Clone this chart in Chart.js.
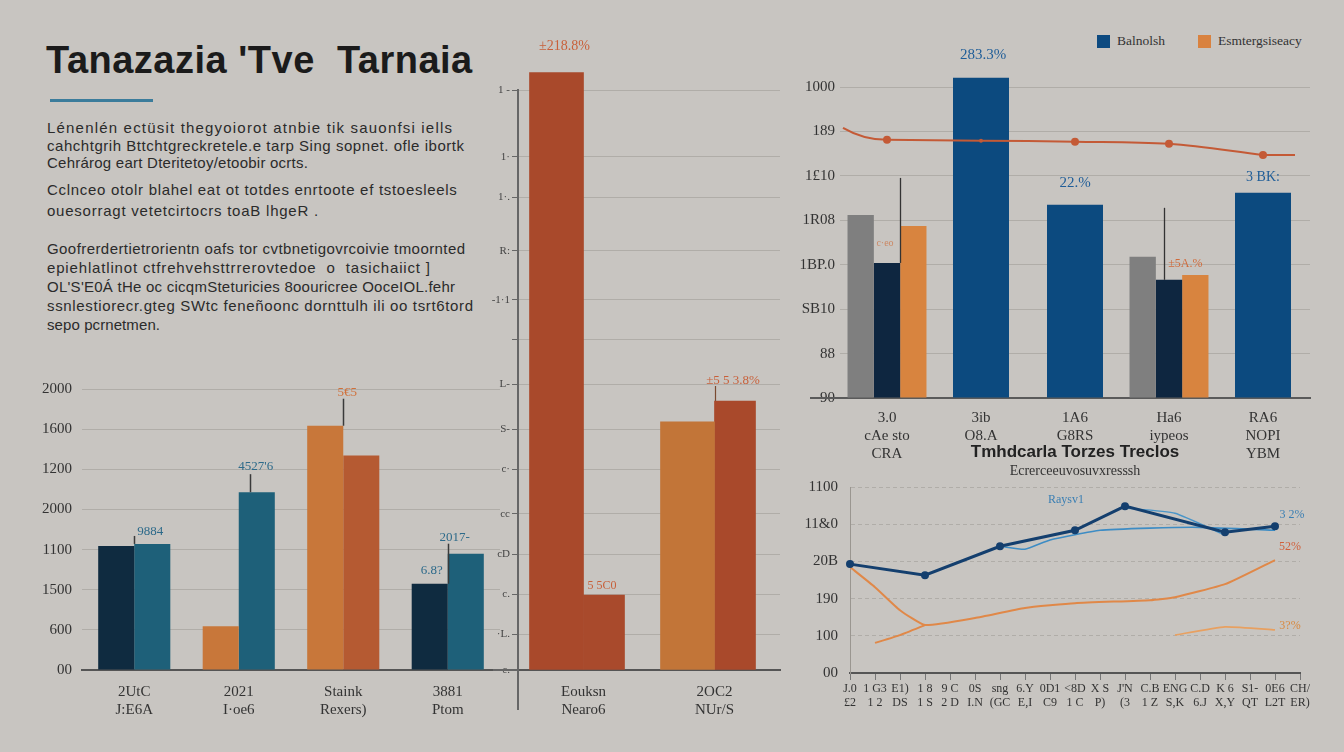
<!DOCTYPE html>
<html><head><meta charset="utf-8">
<script src="https://cdn.jsdelivr.net/npm/chart.js@4.4.1/dist/chart.umd.min.js"></script>
<style>
html,body{margin:0;padding:0;background:#c8c5c1;width:1344px;height:752px;overflow:hidden;}
body{position:relative;font-family:"Liberation Sans",Arial,sans-serif;}
canvas{position:absolute;}
#title{position:absolute;left:46px;top:41px;font:bold 38px/38px "Liberation Sans",Arial,sans-serif;color:#1b1b1b;white-space:nowrap;letter-spacing:0.5px}
#rule{position:absolute;left:50px;top:99px;width:103px;height:3px;background:#3b7c9b}
.ln{position:absolute;left:47px;font-size:15px;line-height:18px;color:#2b2b2b;white-space:nowrap}
.lg{position:absolute;top:33px;display:flex;align-items:center;font:13.5px "Liberation Serif",serif;color:#333;white-space:nowrap}
.lg i{display:inline-block;width:13px;height:13px;margin-right:7px}
</style></head><body>
<div id="title">Tanazazia 'Tve&nbsp; Tarnaia</div>
<div id="rule"></div>
<div id="text"></div>
<div id="legend"></div>
<canvas id="cA" width="490" height="360" style="left:20px;top:370px"></canvas>
<canvas id="cB" width="320" height="700" style="left:470px;top:30px"></canvas>
<canvas id="cC" width="554" height="440" style="left:790px;top:25px"></canvas>
<canvas id="cD" width="554" height="300" style="left:790px;top:435px"></canvas>
<script>
// ---------------- DATA ----------------
const paragraphLines = [
  "Lénenlén ectüsit thegyoiorot atnbie tik sauonfsi iells",
  "cahchtgrih Bttchtgreckretele.e tarp Sing sopnet. ofle ibortk",
  "Cehrárog eart Dteritetoy/etoobir ocrts.",
  "Cclnceo otolr blahel eat ot totdes enrtoote ef tstoesleels",
  "ouesorragt vetetcirtocrs toaB lhgeR .",
  "Goofrerdertietrorientn oafs tor cvtbnetigovrcoivie tmoornted",
  "epiehlatlinot ctfrehvehsttrrerovtedoe  o  tasichaiict ]",
  "OL'S'E0Á tHe oc cicqmSteturicies 8oouricree OoceIOL.fehr",
  "ssnlestiorecr.gteg SWtc feneñoonc dornttulh ili oo tsrt6tord",
  "sepo pcrnetmen."
];

// Chart A (bottom-left)
const blCategories = [["2UtC","J:E6A"],["2021","I·oe6"],["Staink","Rexers)"],["3881","Ptom"]];
const blTickLabels = ["00","600","1500","1100","2000","1200","1600","2000"];
const blLeft  = [618, 218, 1217, 430];
const blRight = [628, 886, 1069, 579];
const blValueLabels = ["9884","4527'6","5€5","6.8?","2017-"];

// Chart B (centre)
const cCategories = [["Eouksn","Nearo6"],["2OC2","NUr/S"]];
const cTickValues = [0,80,170,260,350,450,540,640,740,830,940,1060,1150,1300];
const cTickLabels = ["c.","·L.","c.","cD","cc","c·","S-","L-","","-1·1","R:","1·.","1·","1 -"];
const cLeft  = [1339, 556];
const cRight = [168, 603];
const cValueLabels = ["±218.8%","5 5C0","±5 5 3.8%"];

// Chart C (top-right)
const trCategories = [["3.0","cAe sto","CRA"],["3ib","O8.A"],["1A6","G8RS"],["Ha6","iypeos"],["RA6","NOPI","YBM"]];
const trTickLabels = ["90","88","SB10","1BP.0","1R08","1£10","189","1000"];
const trGray   = [412, null, null, 318, null];
const trBlue   = [304, 721, 435, 266, 462];
const trOrange = [387, null, null, 277, null];
const trLine   = [581, 579, 577, 572, 547];
const trLineEnds = [608, 547];
const trLegendNames = ["Balnolsh","Esmtergsiseacy"];
const trValueLabels = ["283.3%","22.%","3 BK:","±5A.%","c·eo"];

// Chart D (bottom-right)
const brTitle = "Tmhdcarla Torzes Treclos";
const brSubtitle = "Ecrerceeuvosuvxresssh";
const brX1 = ["J.0","1 G3","E1)","1 8","9 C","0S","sng","6.Y","0D1","<8D","X S","J'N","C.B","ENG","C.D","K 6","S1-","0E6","CH/"];
const brX2 = ["£2","1 2","DS","1 S","2 D","I.N","(GC","E,I","C9","1 C","P)","(3","1 Z","S,K","6.J","X,Y","QT","L2T","ER)"];
const brTickLabels = ["00","100","190","20B","11&0","1100"];
const brNavy    = [293,null,null,263,null,null,341,null,null,384,null,449,null,null,null,379,null,395,null];
const brLight   = [null,null,null,null,null,null,341,333,358,null,384,null,390,null,392,null,null,384,null];
const brLight2  = [null,null,null,null,null,null,null,null,null,null,null,444,null,430,null,371,null,null,null];
const brOrangeA = [285,231,169,129,null,148,null,175,null,188,null,null,196,204,null,239,null,304,null];
const brOrangeB = [null,81,102,129,null,null,null,null,null,null,null,null,null,null,null,null,null,null,null];
const brOrangeC = [null,null,null,null,null,null,null,null,null,null,null,null,null,102,null,124,null,116,null];
const brNotes = ["Raysv1","3 2%","52%","3?%"];

// ---------------- STYLE ----------------
const GRID = 'rgba(115,110,105,0.28)';
const SERIF = '"Liberation Serif", "DejaVu Serif", serif';
const lineTops = [119,137,154,181,202,240,259,278,297,316];
const lineRights = [452,464,308,457,318,465,430,455,473,160];
const legendColors = ['#0d4a80','#d9823f'];
const legendLeft = [1097, 1198];

// text block
const textBox = document.getElementById('text');
textBox.innerHTML = paragraphLines.map((t,i)=>
  '<div class="ln" style="top:'+lineTops[i]+'px">'+t.replace(/  /g,'&nbsp; ')+'</div>').join('');
Array.from(textBox.children).forEach((d, i) => {
  const w = d.getBoundingClientRect().width;
  const n = paragraphLines[i].length - 1;
  d.style.letterSpacing = ((lineRights[i] - 47 - w) / n).toFixed(2) + 'px';
});
document.getElementById('legend').innerHTML = trLegendNames.map((n,i)=>
  '<div class="lg" style="left:'+legendLeft[i]+'px"><i style="background:'+legendColors[i]+'"></i>'+n+'</div>').join('');

// ---------------- PLUGINS ----------------
const annotPlugin = {
  id: 'annot',
  afterDatasetsDraw(chart, args, o) {
    const ctx = chart.ctx; ctx.save();
    (o.leaders || []).forEach(l => {
      const el = chart.getDatasetMeta(l.ds).data[l.i];
      const half = (el.width || 0) / 2;
      const x = Math.round(el.x + (l.edge === 'left' ? -half : l.edge === 'right' ? half : 0) + (l.dx || 0)) + 0.5;
      ctx.beginPath(); ctx.strokeStyle = l.color || '#3a3a3a'; ctx.lineWidth = l.w || 1.5;
      ctx.moveTo(x, el.y); ctx.lineTo(x, el.y - l.len); ctx.stroke();
    });
    (o.texts || []).forEach(t => {
      const el = chart.getDatasetMeta(t.ds).data[t.i];
      ctx.font = t.font || ('13px ' + SERIF);
      ctx.fillStyle = t.color; ctx.textAlign = 'center'; ctx.textBaseline = 'middle';
      ctx.fillText(t.text, el.x + (t.dx || 0), el.y - (t.dy || 0));
    });
    ctx.restore();
  }
};
const extPlugin = {
  id: 'ext',
  beforeDatasetsDraw(chart, args, o) {
    const {ctx, chartArea: a} = chart; ctx.save();
    ctx.strokeStyle = o.color || '#5a5a5a'; ctx.lineWidth = o.width || 2;
    if (o.baseLeft) { ctx.beginPath(); ctx.moveTo(a.left - o.baseLeft, a.bottom); ctx.lineTo(a.left, a.bottom); ctx.stroke(); }
    if (o.axisBelow) { ctx.beginPath(); ctx.moveTo(a.left, a.bottom); ctx.lineTo(a.left, a.bottom + o.axisBelow); ctx.stroke(); }
    if (o.lineEnds) {
      const m = chart.getDatasetMeta(o.lineEnds.ds).data; const y = chart.scales.y;
      const p0 = m[0], p1 = m[m.length - 1];
      ctx.strokeStyle = o.lineEnds.color; ctx.lineWidth = 2;
      ctx.beginPath(); ctx.moveTo(a.left + 3, y.getPixelForValue(o.lineEnds.values[0]));
      ctx.quadraticCurveTo((a.left + p0.x) / 2, p0.y, p0.x, p0.y); ctx.stroke();
      ctx.beginPath(); ctx.moveTo(p1.x, p1.y);
      ctx.lineTo(a.right - 15, y.getPixelForValue(o.lineEnds.values[1])); ctx.stroke();
    }
    ctx.restore();
  }
};
Chart.register(annotPlugin, extPlugin);
Chart.defaults.font.family = SERIF;
Chart.defaults.color = '#333';
Chart.defaults.animation = false;
Chart.defaults.responsive = false;
Chart.defaults.plugins.legend.display = false;
Chart.defaults.plugins.tooltip.enabled = false;

const VAL = '#2d6a8a', ORG = '#c8603a';

// ---------------- CHART A ----------------
new Chart(document.getElementById('cA'), {
  type: 'bar',
  data: { labels: blCategories, datasets: [
    { data: blLeft,  backgroundColor: ['#0f2b40','#c8773a','#c8773a','#0f2b40'] },
    { data: blRight, backgroundColor: ['#1e6079','#1e6079','#b55a32','#1e6079'] }
  ]},
  options: {
    layout: { padding: { top: 17, right: 10, left: 0, bottom: 0 } },
    datasets: { bar: { categoryPercentage: 0.69, barPercentage: 1 } },
    scales: {
      x: { grid: { display: false }, border: { display: true, color: '#555', width: 2 },
           ticks: { font: { size: 15 }, padding: 5, maxRotation: 0, autoSkip: false, color: '#333' },
           afterFit: s => { s.height = 60; } },
      y: { min: 0, max: 1400, ticks: { stepSize: 200, padding: 10, font: { size: 15 }, color: '#333',
             callback: v => blTickLabels[Math.round(v / 200)] },
           grid: { color: GRID, drawTicks: false }, border: { display: false },
           afterFit: s => { s.width = 62; } }
    },
    plugins: { annot: {
      texts: [
        { ds: 1, i: 0, text: blValueLabels[0], color: VAL, dx: -2, dy: 12 },
        { ds: 1, i: 1, text: blValueLabels[1], color: VAL, dx: -1, dy: 26 },
        { ds: 0, i: 2, text: blValueLabels[2], color: '#d0703a', dx: 22, dy: 33 },
        { ds: 0, i: 3, text: blValueLabels[3], color: VAL, dx: 2, dy: 13 },
        { ds: 0, i: 3, text: blValueLabels[4], color: VAL, dx: 25, dy: 46 }
      ],
      leaders: [
        { ds: 1, i: 0, edge: 'left', len: 8 },
        { ds: 1, i: 1, edge: 'center', dx: -7, len: 18 },
        { ds: 0, i: 2, edge: 'right', len: 27 },
        { ds: 0, i: 3, edge: 'right', len: 40 }
      ] } }
  }
});

// ---------------- CHART B ----------------
new Chart(document.getElementById('cB'), {
  type: 'bar',
  data: { labels: cCategories, datasets: [
    { data: cLeft,  backgroundColor: ['#a9492b','#c27538'], barThickness: 54, clip: false },
    { data: cRight, backgroundColor: ['#a94a2c','#a9492b'], barThickness: 41, clip: false }
  ]},
  options: {
    layout: { padding: { top: 60, right: 10, left: 0, bottom: 0 } },
    scales: {
      x: { grid: { display: false }, border: { display: true, color: '#555', width: 2 },
           ticks: { font: { size: 15 }, padding: 5, maxRotation: 0, autoSkip: false, color: '#333' },
           afterFit: s => { s.height = 60; } },
      y: { min: 0, max: 1300,
           afterBuildTicks: s => { s.ticks = cTickValues.map(v => ({ value: v })); },
           ticks: { padding: 2, font: { size: 11 }, color: '#444', callback: (v, i) => cTickLabels[i] },
           grid: { color: GRID, tickColor: '#666', tickLength: 6 },
           border: { display: true, color: '#666', width: 2 },
           afterFit: s => { s.width = 48; } }
    },
    plugins: {
      ext: { axisBelow: 40, baseLeft: 25, color: '#666' },
      annot: {
        texts: [
          { ds: 0, i: 0, text: cValueLabels[0], color: ORG, dx: 8, dy: 26, font: '14px ' + SERIF },
          { ds: 1, i: 0, text: cValueLabels[1], color: ORG, dx: -2, dy: 9, font: '12px ' + SERIF },
          { ds: 1, i: 1, text: cValueLabels[2], color: ORG, dx: -2, dy: 20, font: '13px ' + SERIF }
        ],
        leaders: [ { ds: 1, i: 1, edge: 'left', len: 15, color: '#7a4a30', w: 1.2 } ]
      }
    }
  }
});

// ---------------- CHART C ----------------
new Chart(document.getElementById('cC'), {
  type: 'bar',
  data: { labels: trCategories, datasets: [
    { data: trGray, backgroundColor: '#7f7f7f', skipNull: true, order: 1 },
    { data: trBlue, backgroundColor: ['#0e2640','#0c4a7f','#0c4a7f','#0e2640','#0c4a7f'],
      skipNull: true, maxBarThickness: 56, clip: false, order: 1 },
    { data: trOrange, backgroundColor: '#d8843f', skipNull: true, order: 1 },
    { type: 'line', data: trLine, borderColor: '#c45a36', borderWidth: 2, tension: 0.35,
      pointRadius: [4, 2, 4, 4, 4], pointBackgroundColor: '#c45a36', pointBorderWidth: 0, order: 0 }
  ]},
  options: {
    layout: { padding: { top: 62, right: 34, left: 0, bottom: 0 } },
    datasets: { bar: { categoryPercentage: 0.84, barPercentage: 1 } },
    scales: {
      x: { grid: { display: false }, border: { display: true, color: '#5a5a5a', width: 2 },
           ticks: { font: { size: 15, lineHeight: 1.2 }, padding: 3, maxRotation: 0, autoSkip: false, color: '#333' },
           afterFit: s => { s.height = 67; } },
      y: { min: 0, max: 700, ticks: { stepSize: 100, padding: 5, font: { size: 15 }, color: '#333',
             callback: v => trTickLabels[Math.round(v / 100)] },
           grid: { color: GRID, drawTicks: false }, border: { display: false },
           afterFit: s => { s.width = 50; } }
    },
    plugins: {
      ext: { baseLeft: 30, color: '#5a5a5a', lineEnds: { ds: 3, values: trLineEnds, color: '#c45a36' } },
      annot: {
        texts: [
          { ds: 1, i: 1, text: trValueLabels[0], color: '#1f5d98', dx: 2, dy: 23, font: '15px ' + SERIF },
          { ds: 1, i: 2, text: trValueLabels[1], color: '#1f5d98', dx: 0, dy: 22, font: '15px ' + SERIF },
          { ds: 1, i: 4, text: trValueLabels[2], color: '#1f5d98', dx: 0, dy: 15, font: '14px ' + SERIF },
          { ds: 2, i: 3, text: trValueLabels[3], color: '#d06a3a', dx: -10, dy: 11, font: '12px ' + SERIF },
          { ds: 1, i: 0, text: trValueLabels[4], color: 'rgba(205,110,60,0.7)', dx: -2, dy: 20, font: '10px ' + SERIF }
        ],
        leaders: [
          { ds: 1, i: 0, edge: 'right', len: 85, color: '#333', w: 1.3 },
          { ds: 1, i: 3, edge: 'left', dx: 8, len: 72, color: '#333', w: 1.3 }
        ]
      }
    }
  }
});

// ---------------- CHART D ----------------
const brLabels = brX1.map((a, i) => [a, brX2[i]]);
const ln = (data, color, w, extra) => Object.assign({ data, borderColor: color, borderWidth: w, spanGaps: true,
  pointRadius: 0, tension: 0.15, fill: false }, extra || {});
new Chart(document.getElementById('cD'), {
  type: 'line',
  data: { labels: brLabels, datasets: [
    ln(brNavy, '#143f6e', 3, { pointRadius: 2.5, pointBackgroundColor: '#143f6e', tension: 0 }),
    ln(brLight, '#3d8cc4', 1.6),
    ln(brLight2, '#4a95c8', 1.4),
    ln(brOrangeA, '#e08848', 2),
    ln(brOrangeB, '#e08848', 2),
    ln(brOrangeC, '#e8a060', 1.6)
  ]},
  options: {
    layout: { padding: { top: 0, right: 44, left: 0, bottom: 0 } },
    scales: {
      x: { grid: { drawOnChartArea: false, drawTicks: true, tickLength: 7, tickColor: '#777' },
           border: { display: true, color: '#555', width: 2 },
           ticks: { font: { size: 12, lineHeight: 1.15 }, padding: 2, maxRotation: 0, autoSkip: false, color: '#333' },
           afterFit: s => { s.height = 62; } },
      y: { min: 0, max: 500, ticks: { stepSize: 100, padding: 12, font: { size: 15 }, color: '#333',
             callback: v => brTickLabels[Math.round(v / 100)] },
           grid: { color: GRID, drawTicks: false }, border: { display: true, color: '#9a9690', width: 1, dash: [4, 3] },
           afterFit: s => { s.width = 60; } }
    },
    plugins: {
      title: { display: true, fullSize: false, text: brTitle, color: '#222', font: { family: '"Liberation Sans", Arial, sans-serif', size: 17, weight: 'bold', lineHeight: 1.2 }, padding: { top: 7, bottom: 0 } },
      subtitle: { display: true, fullSize: false, text: brSubtitle, color: '#333', font: { family: SERIF, size: 14, lineHeight: 1.2 }, padding: { top: 1, bottom: 7 } },
      annot: {
        texts: [
          { ds: 0, i: 9, text: brNotes[0], color: '#3b7fb3', dx: -9, dy: 30, font: '12px ' + SERIF },
          { ds: 0, i: 17, text: brNotes[1], color: '#3b7fb3', dx: 17, dy: 11, font: '12px ' + SERIF },
          { ds: 3, i: 17, text: brNotes[2], color: '#d0603c', dx: 15, dy: 13, font: '12px ' + SERIF },
          { ds: 5, i: 17, text: brNotes[3], color: '#d8893f', dx: 15, dy: 4, font: '12px ' + SERIF }
        ]
      }
    }
  }
});
</script>
</body></html>
